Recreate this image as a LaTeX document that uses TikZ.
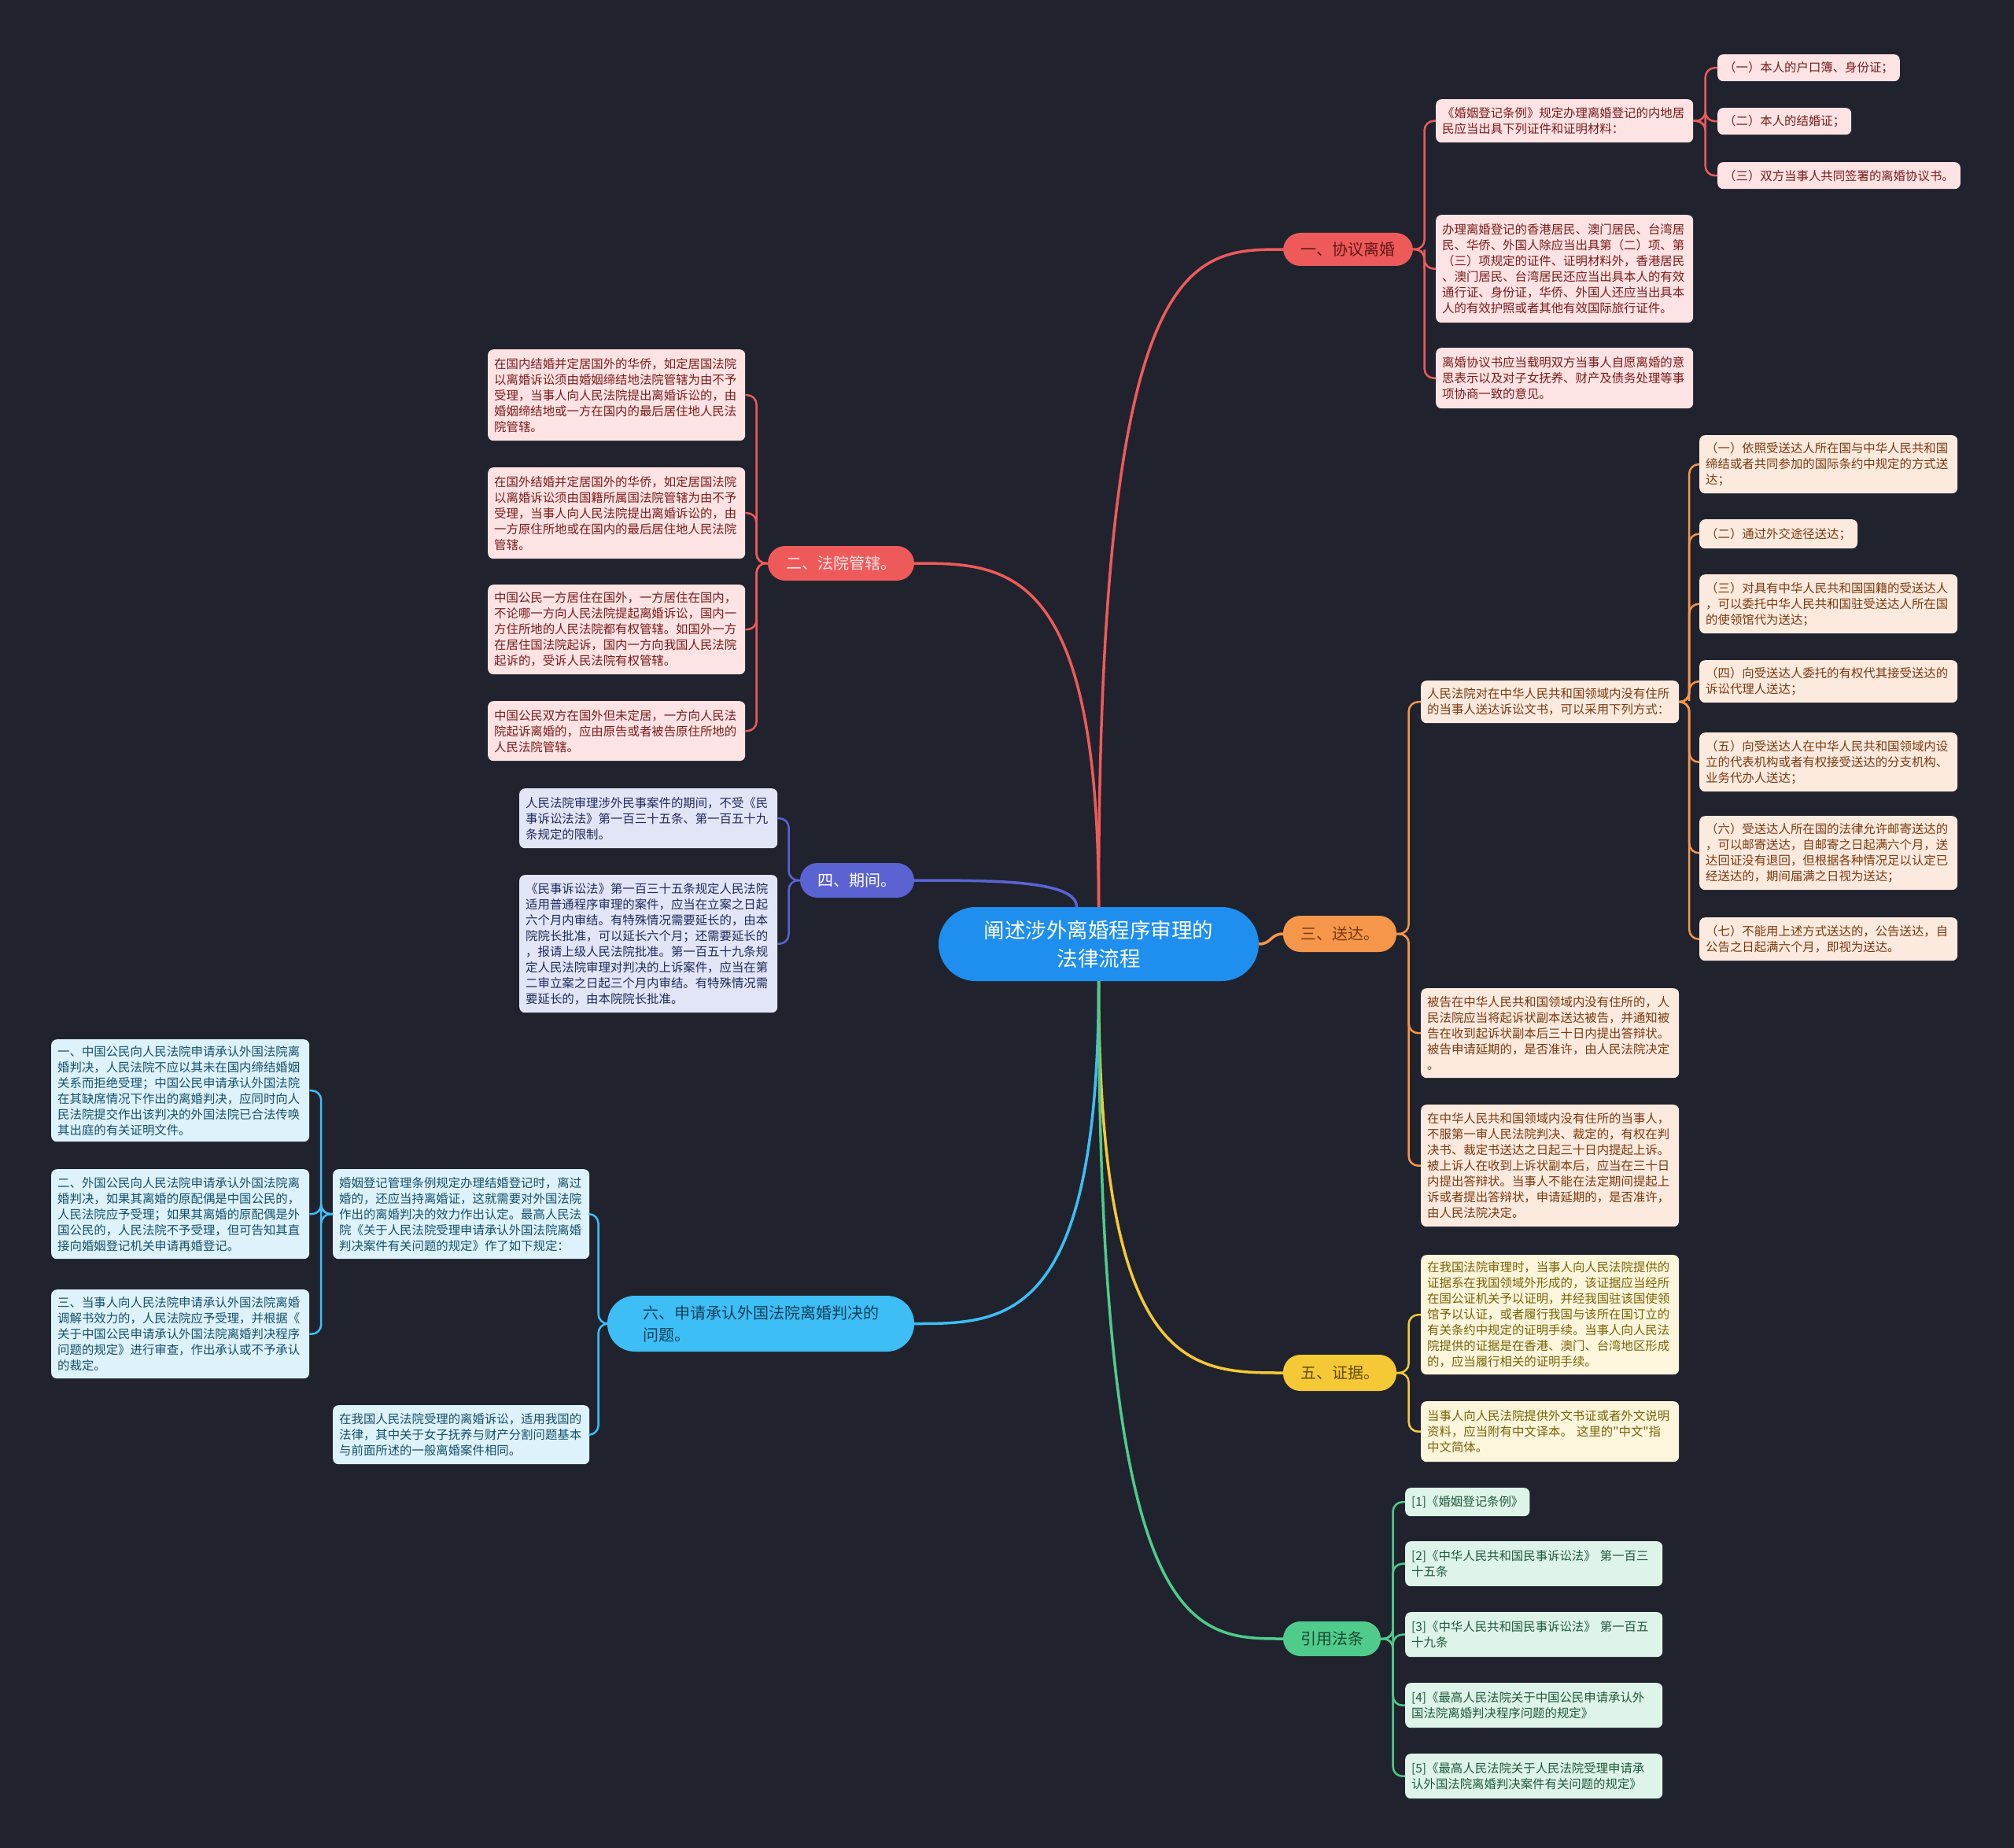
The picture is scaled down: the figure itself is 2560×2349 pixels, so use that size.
\documentclass[tikz,border=0pt]{standalone}
\usepackage{fontspec}
\newfontfamily\cjk{Noto Sans CJK SC}
\usetikzlibrary{calc}
\definecolor{bg}{HTML}{20232E}
\definecolor{cenc}{HTML}{1E8FEF}
\definecolor{redc}{HTML}{EE5A5A}\definecolor{redfill}{HTML}{FDE3E3}\definecolor{redtext}{HTML}{7A1C1C}
\definecolor{orc}{HTML}{F5964B}\definecolor{orfill}{HTML}{FDEADF}\definecolor{ortext}{HTML}{7A3A10}
\definecolor{puc}{HTML}{5B63D3}\definecolor{pufill}{HTML}{E2E5F6}\definecolor{putext}{HTML}{1F2A5E}
\definecolor{yec}{HTML}{F5C935}\definecolor{yefill}{HTML}{FDF6DC}\definecolor{yetext}{HTML}{7A6208}
\definecolor{cyc}{HTML}{3DBEF5}\definecolor{cyfill}{HTML}{DDF2FB}\definecolor{cytext}{HTML}{17506E}
\definecolor{grc}{HTML}{4FCB8C}\definecolor{grfill}{HTML}{DFF4E8}\definecolor{grtext}{HTML}{1E5A3C}
\tikzset{
  leaf/.style={rectangle, rounded corners=7pt, anchor=north west, inner xsep=8pt, inner ysep=3pt, align=left, font=\cjk\fontsize{15.4}{20}\selectfont},
  redleaf/.style={leaf, fill=redfill, text=redtext},
  orleaf/.style={leaf, fill=orfill, text=ortext},
  puleaf/.style={leaf, fill=pufill, text=putext},
  yeleaf/.style={leaf, fill=yefill, text=yetext},
  cyleaf/.style={leaf, fill=cyfill, text=cytext},
  grleaf/.style={leaf, fill=grfill, text=grtext},
  branch/.style={rectangle, rounded corners=22pt, inner sep=0pt, align=left, font=\cjk\fontsize{20}{28}\selectfont},
  bline/.style={line width=3.5pt},
  lline/.style={line width=2.5pt, rounded corners=12pt},
}
\newcommand\conR[3]{\draw[lline,#1] (#2.east) -| ($(#2.east)!0.5!(#3.west)$) |- (#3.west);}
\newcommand\conL[3]{\draw[lline,#1] (#2.west) -| ($(#2.west)!0.5!(#3.east)$) |- (#3.east);}
\newcommand\curv[3]{\draw[bline,#1] (#2) .. controls (#2 |- #3) and ($(#2 |- #3)!0.5!(#3)$) .. (#3);}
\begin{document}
\begin{tikzpicture}[x=1pt,y=-1pt]
\fill[bg] (0,0) rectangle (2560,2349);
\useasboundingbox (0,0) rectangle (2560,2349);

% center
\node[fill=cenc, text=white, rounded corners=47pt, minimum width=407pt, minimum height=94pt, inner sep=0pt, align=center, font=\cjk\fontsize{26.5}{36}\selectfont] (c) at (1396.5,1200) {阐述涉外离婚程序审理的\\法律流程};

% branches
\node[branch, fill=redc, text=redtext!80!black, minimum width=165pt, minimum height=42pt] (b1) at (1713.5,317) {一、协议离婚};
\node[branch, fill=redc, text=redfill, minimum width=186pt, minimum height=44pt] (b2) at (1069,716) {二、法院管辖。};
\node[branch, fill=orc, text=ortext, minimum width=144pt, minimum height=46pt] (b3) at (1703,1187) {三、送达。};
\node[branch, fill=puc, text=white, minimum width=145pt, minimum height=44pt] (b4) at (1089.5,1119) {四、期间。};
\node[branch, fill=yec, text=yetext!80!black, minimum width=144pt, minimum height=46pt] (b5) at (1703,1745) {五、证据。};
\node[branch, fill=cyc, text=cytext!80!black, rounded corners=35pt, minimum width=390pt, minimum height=71pt] (b6) at (967,1682.5) {六、申请承认外国法院离婚判决的\\问题。};
\node[branch, fill=grc, text=grtext!80!black, minimum width=124pt, minimum height=44pt] (b7) at (1693,2083) {引用法条};

% branch curves
\curv{redc}{c.north}{b1.west}
\curv{redc}{c.north}{b2.east}
\curv{cyc}{c.south}{b6.east}
\curv{yec}{c.south}{b5.west}
\curv{grc}{c.south}{b7.west}
\draw[bline,puc] ([xshift=-28pt]c.north) .. controls ([xshift=-28pt]c.north |- b4.east) and ($([xshift=-28pt]c.north |- b4.east)!0.5!(b4.east)$) .. (b4.east);
\draw[bline,orc] (c.east) .. controls ($(c.east)+(16,0)$) and ($(b3.west)+(-16,0)$) .. (b3.west);

% 一 leaves
\node[redleaf, text width=311pt, minimum height=55pt] (l1a) at (1825,126) {《婚姻登记条例》规定办理离婚登记的内地居\\民应当出具下列证件和证明材料：};
\node[redleaf, text width=311pt, minimum height=137pt] (l1b) at (1825,273) {办理离婚登记的香港居民、澳门居民、台湾居\\民、华侨、外国人除应当出具第（二）项、第\\（三）项规定的证件、证明材料外，香港居民\\、澳门居民、台湾居民还应当出具本人的有效\\通行证、身份证，华侨、外国人还应当出具本\\人的有效护照或者其他有效国际旅行证件。};
\node[redleaf, text width=311pt, minimum height=77pt] (l1c) at (1825,442) {离婚协议书应当载明双方当事人自愿离婚的意\\思表示以及对子女抚养、财产及债务处理等事\\项协商一致的意见。};
\node[redleaf, minimum height=34pt] (l1a1) at (2183,69) {（一）本人的户口簿、身份证；};
\node[redleaf, minimum height=34pt] (l1a2) at (2183,137) {（二）本人的结婚证；};
\node[redleaf, minimum height=34pt] (l1a3) at (2183,206) {（三）双方当事人共同签署的离婚协议书。};
\conR{redc}{b1}{l1a}\conR{redc}{b1}{l1b}\conR{redc}{b1}{l1c}
\conR{redc}{l1a}{l1a1}\conR{redc}{l1a}{l1a2}\conR{redc}{l1a}{l1a3}

% 二 leaves
\node[redleaf, text width=311pt, minimum height=116pt] (l2a) at (620,444) {在国内结婚并定居国外的华侨，如定居国法院\\以离婚诉讼须由婚姻缔结地法院管辖为由不予\\受理，当事人向人民法院提出离婚诉讼的，由\\婚姻缔结地或一方在国内的最后居住地人民法\\院管辖。};
\node[redleaf, text width=311pt, minimum height=116pt] (l2b) at (620,594) {在国外结婚并定居国外的华侨，如定居国法院\\以离婚诉讼须由国籍所属国法院管辖为由不予\\受理，当事人向人民法院提出离婚诉讼的，由\\一方原住所地或在国内的最后居住地人民法院\\管辖。};
\node[redleaf, text width=311pt, minimum height=114pt] (l2c) at (620,743) {中国公民一方居住在国外，一方居住在国内，\\不论哪一方向人民法院提起离婚诉讼，国内一\\方住所地的人民法院都有权管辖。如国外一方\\在居住国法院起诉，国内一方向我国人民法院\\起诉的，受诉人民法院有权管辖。};
\node[redleaf, text width=311pt, minimum height=76pt] (l2d) at (620,891) {中国公民双方在国外但未定居，一方向人民法\\院起诉离婚的，应由原告或者被告原住所地的\\人民法院管辖。};
\conL{redc}{b2}{l2a}\conL{redc}{b2}{l2b}\conL{redc}{b2}{l2c}\conL{redc}{b2}{l2d}

% 四 leaves
\node[puleaf, text width=312pt, minimum height=76pt] (l4a) at (660,1002) {人民法院审理涉外民事案件的期间，不受《民\\事诉讼法法》第一百三十五条、第一百五十九\\条规定的限制。};
\node[puleaf, text width=312pt, minimum height=175pt] (l4b) at (660,1112) {《民事诉讼法》第一百三十五条规定人民法院\\适用普通程序审理的案件，应当在立案之日起\\六个月内审结。有特殊情况需要延长的，由本\\院院长批准，可以延长六个月；还需要延长的\\，报请上级人民法院批准。第一百五十九条规\\定人民法院审理对判决的上诉案件，应当在第\\二审立案之日起三个月内审结。有特殊情况需\\要延长的，由本院院长批准。};
\conL{puc}{b4}{l4a}\conL{puc}{b4}{l4b}

% 三 leaves
\node[orleaf, text width=312pt, minimum height=54pt] (l3a) at (1806,865) {人民法院对在中华人民共和国领域内没有住所\\的当事人送达诉讼文书，可以采用下列方式：};
\node[orleaf, text width=312pt, minimum height=114pt] (l3b) at (1806,1256) {被告在中华人民共和国领域内没有住所的，人\\民法院应当将起诉状副本送达被告，并通知被\\告在收到起诉状副本后三十日内提出答辩状。\\被告申请延期的，是否准许，由人民法院决定\\。};
\node[orleaf, text width=312pt, minimum height=155pt] (l3c) at (1806,1404) {在中华人民共和国领域内没有住所的当事人，\\不服第一审人民法院判决、裁定的，有权在判\\决书、裁定书送达之日起三十日内提起上诉。\\被上诉人在收到上诉状副本后，应当在三十日\\内提出答辩状。当事人不能在法定期间提起上\\诉或者提出答辩状，申请延期的，是否准许，\\由人民法院决定。};
\node[orleaf, text width=312pt, minimum height=74pt] (s1) at (2160,553) {（一）依照受送达人所在国与中华人民共和国\\缔结或者共同参加的国际条约中规定的方式送\\达；};
\node[orleaf, minimum height=37pt] (s2) at (2160,660) {（二）通过外交途径送达；};
\node[orleaf, text width=312pt, minimum height=75pt] (s3) at (2160,730) {（三）对具有中华人民共和国国籍的受送达人\\，可以委托中华人民共和国驻受送达人所在国\\的使领馆代为送达；};
\node[orleaf, text width=312pt, minimum height=54pt] (s4) at (2160,839) {（四）向受送达人委托的有权代其接受送达的\\诉讼代理人送达；};
\node[orleaf, text width=312pt, minimum height=75pt] (s5) at (2160,931) {（五）向受送达人在中华人民共和国领域内设\\立的代表机构或者有权接受送达的分支机构、\\业务代办人送达；};
\node[orleaf, text width=312pt, minimum height=94pt] (s6) at (2160,1037) {（六）受送达人所在国的法律允许邮寄送达的\\，可以邮寄送达，自邮寄之日起满六个月，送\\达回证没有退回，但根据各种情况足以认定已\\经送达的，期间届满之日视为送达；};
\node[orleaf, text width=312pt, minimum height=55pt] (s7) at (2160,1166) {（七）不能用上述方式送达的，公告送达，自\\公告之日起满六个月，即视为送达。};
\conR{orc}{b3}{l3a}\conR{orc}{b3}{l3b}\conR{orc}{b3}{l3c}
\conR{orc}{l3a}{s1}\conR{orc}{l3a}{s2}\conR{orc}{l3a}{s3}\conR{orc}{l3a}{s4}\conR{orc}{l3a}{s5}\conR{orc}{l3a}{s6}\conR{orc}{l3a}{s7}

% 五 leaves
\node[yeleaf, text width=312pt, minimum height=152pt] (l5a) at (1806,1595) {在我国法院审理时，当事人向人民法院提供的\\证据系在我国领域外形成的，该证据应当经所\\在国公证机关予以证明，并经我国驻该国使领\\馆予以认证，或者履行我国与该所在国订立的\\有关条约中规定的证明手续。当事人向人民法\\院提供的证据是在香港、澳门、台湾地区形成\\的，应当履行相关的证明手续。};
\node[yeleaf, text width=312pt, minimum height=77pt] (l5b) at (1806,1781) {当事人向人民法院提供外文书证或者外文说明\\资料，应当附有中文译本。 这里的"中文"指\\中文简体。};
\conR{yec}{b5}{l5a}\conR{yec}{b5}{l5b}

% 引用法条 leaves
\node[grleaf, minimum height=36pt] (r1) at (1786,1891) {[1]《婚姻登记条例》};
\node[grleaf, text width=311pt, minimum height=57pt] (r2) at (1786,1959) {[2]《中华人民共和国民事诉讼法》 第一百三\\十五条};
\node[grleaf, text width=311pt, minimum height=57pt] (r3) at (1786,2049) {[3]《中华人民共和国民事诉讼法》 第一百五\\十九条};
\node[grleaf, text width=311pt, minimum height=57pt] (r4) at (1786,2139) {[4]《最高人民法院关于中国公民申请承认外\\国法院离婚判决程序问题的规定》};
\node[grleaf, text width=311pt, minimum height=57pt] (r5) at (1786,2229) {[5]《最高人民法院关于人民法院受理申请承\\认外国法院离婚判决案件有关问题的规定》};
\conR{grc}{b7}{r1}\conR{grc}{b7}{r2}\conR{grc}{b7}{r3}\conR{grc}{b7}{r4}\conR{grc}{b7}{r5}

% 六 leaves
\node[cyleaf, text width=310pt, minimum height=114pt] (l6a) at (423,1486) {婚姻登记管理条例规定办理结婚登记时，离过\\婚的，还应当持离婚证，这就需要对外国法院\\作出的离婚判决的效力作出认定。最高人民法\\院《关于人民法院受理申请承认外国法院离婚\\判决案件有关问题的规定》作了如下规定：};
\node[cyleaf, text width=310pt, minimum height=75pt] (l6b) at (423,1786) {在我国人民法院受理的离婚诉讼，适用我国的\\法律，其中关于女子抚养与财产分割问题基本\\与前面所述的一般离婚案件相同。};
\node[cyleaf, text width=312pt, minimum height=130pt] (m1) at (65,1321) {一、中国公民向人民法院申请承认外国法院离\\婚判决，人民法院不应以其未在国内缔结婚姻\\关系而拒绝受理；中国公民申请承认外国法院\\在其缺席情况下作出的离婚判决，应同时向人\\民法院提交作出该判决的外国法院已合法传唤\\其出庭的有关证明文件。};
\node[cyleaf, text width=312pt, minimum height=114pt] (m2) at (65,1486) {二、外国公民向人民法院申请承认外国法院离\\婚判决，如果其离婚的原配偶是中国公民的，\\人民法院应予受理；如果其离婚的原配偶是外\\国公民的，人民法院不予受理，但可告知其直\\接向婚姻登记机关申请再婚登记。};
\node[cyleaf, text width=312pt, minimum height=113pt] (m3) at (65,1639) {三、当事人向人民法院申请承认外国法院离婚\\调解书效力的，人民法院应予受理，并根据《\\关于中国公民申请承认外国法院离婚判决程序\\问题的规定》进行审查，作出承认或不予承认\\的裁定。};
\conL{cyc}{b6}{l6a}\conL{cyc}{b6}{l6b}
\conL{cyc}{l6a}{m1}\conL{cyc}{l6a}{m2}\conL{cyc}{l6a}{m3}
\end{tikzpicture}
\end{document}
